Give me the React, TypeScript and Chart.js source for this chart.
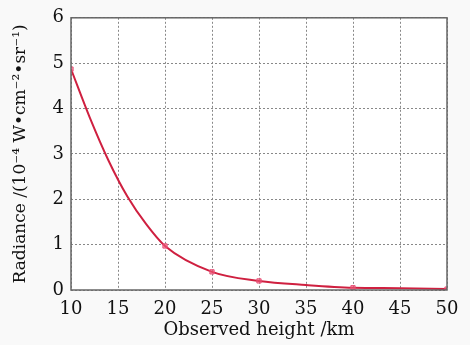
import React, { useEffect, useRef } from "react";
import { Chart, registerables } from "chart.js";

Chart.register(...registerables);

const heights = [10, 12, 14, 16, 18, 20, 25, 30, 35, 40, 45, 50];
const radiance = [4.87, 3.8, 2.85, 2.06, 1.45, 0.97, 0.4, 0.2, 0.11, 0.05, 0.04, 0.02];
const markerShown = [true, false, false, false, false, true, true, true, false, true, false, true];
const xLabel = "Observed height /km";
const yLabel = "Radiance /(10\u207B\u2074 W\u2022cm\u207B\u00B2\u2022sr\u207B\u00B9)";

const FONT = "'DejaVu Serif', serif";

const framePlugin = {
  id: "frame",
  beforeDraw(chart: any) {
    const { ctx, chartArea: a } = chart;
    ctx.save();
    ctx.fillStyle = "#ffffff";
    ctx.fillRect(a.left, a.top, a.right - a.left, a.bottom - a.top);
    ctx.restore();
  },
  afterDatasetsDraw(chart: any) {
    const { ctx, chartArea: a } = chart;
    ctx.save();
    ctx.strokeStyle = "#666";
    ctx.lineWidth = 1.5;
    ctx.strokeRect(a.left, a.top, a.right - a.left, a.bottom - a.top);
    ctx.restore();
  },
};

export default function App() {
  const ref = useRef<HTMLCanvasElement | null>(null);
  useEffect(() => {
    if (!ref.current) return;
    const chart = new Chart(ref.current, {
      type: "line",
      data: {
        datasets: [
          {
            data: heights.map((h, i) => ({ x: h, y: radiance[i] })),
            borderColor: "#cf2040",
            borderWidth: 2,
            cubicInterpolationMode: "monotone",
            pointStyle: "rect",
            pointRadius: markerShown.map((m) => (m ? 3 : 0)),
            pointBackgroundColor: "rgba(240,90,120,0.6)",
            pointBorderColor: "#e85078",
            pointBorderWidth: 1,
          },
        ],
      },
      options: {
        animation: false,
        responsive: false,
        maintainAspectRatio: false,
        layout: { padding: { left: 0, right: 23, top: 14, bottom: 0 } },
        plugins: { legend: { display: false }, tooltip: { enabled: false } },
        scales: {
          x: {
            type: "linear",
            min: 10,
            max: 50,
            ticks: { stepSize: 5, color: "#111", font: { family: FONT, size: 18 }, padding: 9 },
            grid: { color: "#888", drawTicks: false, lineWidth: 1 },
            border: { display: false, dash: [2, 2] },
            title: { display: true, text: xLabel, color: "#111", font: { family: FONT, size: 18 }, padding: { top: 0, bottom: 4 } },
            afterFit: (s: any) => { s.height = 55; },
          },
          y: {
            min: 0,
            max: 6,
            ticks: { stepSize: 1, color: "#111", font: { family: FONT, size: 18 }, padding: 7 },
            grid: { color: "#888", drawTicks: false, lineWidth: 1 },
            border: { display: false, dash: [2, 2] },
            title: { display: true, text: yLabel, color: "#111", font: { family: FONT, size: 17 }, padding: { top: 10, bottom: 0 } },
            afterFit: (s: any) => { s.width = 71; },
          },
        },
      },
      plugins: [framePlugin],
    } as any);
    return () => chart.destroy();
  }, []);
  return (
    <div style={{ position: "fixed", left: 0, top: 0, width: 470, height: 345, background: "#f9f9f9" }}>
      <canvas ref={ref} width={470} height={345} style={{ width: 470, height: 345, display: "block" }} />
    </div>
  );
}
